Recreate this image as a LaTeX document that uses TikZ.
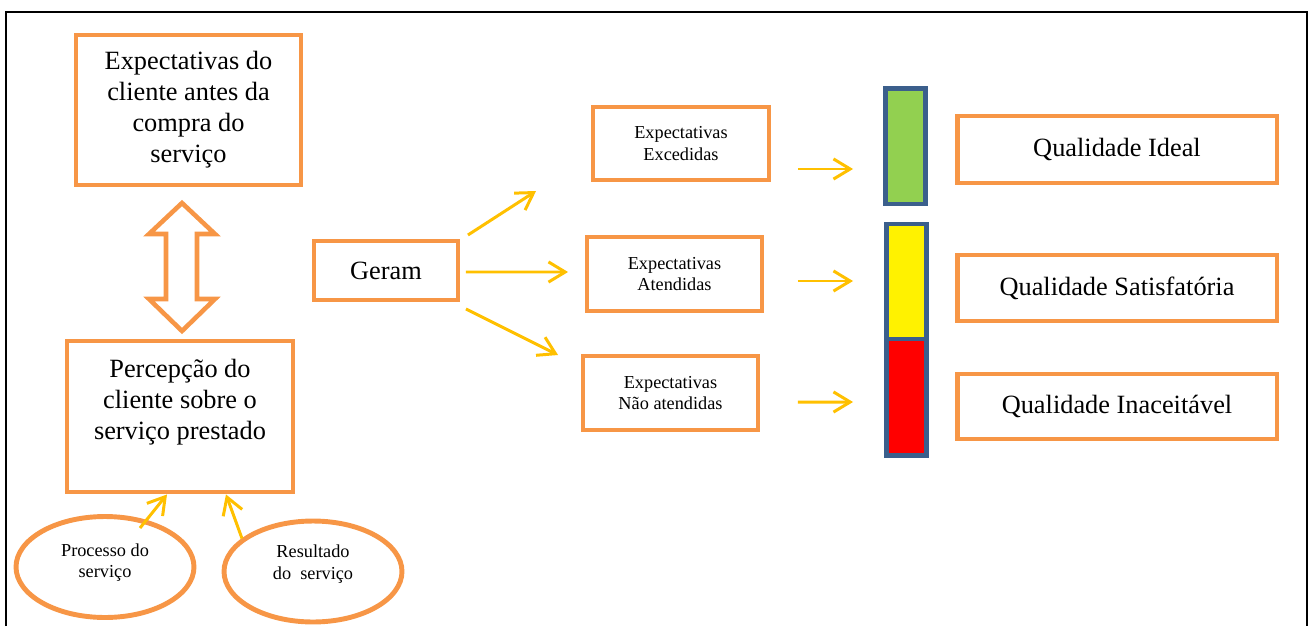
\documentclass[tikz,border=0pt]{standalone}
\usepackage{fontspec}
\setmainfont{Liberation Serif}
\usetikzlibrary{arrows.meta,shapes.geometric}
\definecolor{boxorange}{HTML}{F79646}
\definecolor{arrowyellow}{HTML}{FFC000}
\definecolor{barblue}{HTML}{3B5F8C}
\definecolor{bargreen}{HTML}{92D050}

\begin{document}
\begin{tikzpicture}[x=0.02cm, y=-0.02cm,
  box/.style={draw=boxorange, line width=2.8pt, fill=white, inner sep=0pt, align=center},
  bigtxt/.style={font=\fontsize{15}{17.6}\selectfont},
  smalltxt/.style={font=\fontsize{10.4}{12.4}\selectfont},
  ellbox/.style={ellipse, draw=boxorange, line width=2.8pt, inner sep=0pt,
    minimum width=3.56cm, minimum height=2.02cm},
  bar/.style={draw=barblue, line width=2.8pt, inner sep=0pt, minimum width=0.8cm},
  garrow/.style={draw=arrowyellow, line width=1.7pt, -{Straight Barb[length=9.5pt,width=11.5pt]}}]
\useasboundingbox (0,0) rectangle (1309,626);
\draw[line width=1.1pt] (6,626) -- (6,12) -- (1307,12) -- (1307,626);

% left column
\node[box, bigtxt, minimum width=4.5cm, minimum height=3cm] (expcli) at (188.5,110)
  {Expectativas do\\cliente antes da\\compra do\\serviço};
\node[box, minimum width=4.52cm, minimum height=3.02cm] (perc) at (180,416.5) {};
\node[bigtxt, align=center] (perctxt) at (180,402) {Percepção do\\cliente sobre o\\serviço prestado};
\draw[draw=boxorange, fill=white, line width=2.6pt, line join=miter]
  (182,203) -- (149,234) -- (166,234) -- (166,299) -- (149,299) -- (182,331)
  -- (215,299) -- (197,299) -- (197,234) -- (215,234) -- cycle;
\node[ellbox, label={[smalltxt, align=center, yshift=0.09cm]center:Processo do\\serviço}] (proc) at (105,567) {};
\node[ellbox, label={[smalltxt, align=center, yshift=0.15cm]center:Resultado\\do\ \ serviço}] (result) at (313,571.5) {};
\draw[garrow] ([shift={(35,-39)}]proc.center) -- ([xshift=-0.26cm]perc.south);
\draw[garrow] ([shift={(-71,-33)}]result.center) -- ([xshift=0.92cm]perc.south);

% middle
\node[box, bigtxt, minimum width=2.88cm, minimum height=1.18cm] (geram) at (386,270.5) {Geram};
\node[box, smalltxt, minimum width=3.52cm, minimum height=1.46cm] (exced) at (681,143.5) {Expectativas\\Excedidas};
\node[box, smalltxt, minimum width=3.5cm, minimum height=1.48cm] (atend) at (674.5,274) {Expectativas\\Atendidas};
\node[box, smalltxt, minimum width=3.5cm, minimum height=1.48cm] (naoat) at (670.5,393) {Expectativas\\Não atendidas};
\draw[garrow] ([shift={(7.5,-35.5)}]geram.east) -- ([shift={(-54.5,47.5)}]exced.west);
\draw[garrow] ([shift={(5.5,1.5)}]geram.east) -- ([shift={(-16.5,-2)}]atend.west);
\draw[garrow] ([shift={(5.5,38.5)}]geram.east) -- ([shift={(-22.5,-38)}]naoat.west);

% bars
\node[bar, fill=bargreen, minimum height=2.31cm] (green) at (905.5,146.25) {};
\node[bar, fill=yellow, minimum height=2.3cm] (yel) at (906.5,281.5) {};
\node[bar, fill=red, minimum height=2.33cm] (redbar) at (906.5,397.25) {};
\draw[garrow] ([shift={(26.5,25.5)}]exced.east) -- ([shift={(-30,22.75)}]green.west);
\draw[garrow] ([shift={(33.5,7)}]atend.east) -- ([shift={(-31,-0.5)}]yel.west);
\draw[garrow] ([shift={(37.5,9)}]naoat.east) -- ([shift={(-31,4.75)}]redbar.west);

% right column
\node[box, bigtxt, minimum width=6.4cm, minimum height=1.34cm] (ideal) at (1117,149.5) {Qualidade Ideal};
\node[box, bigtxt, minimum width=6.4cm, minimum height=1.32cm] (satisf) at (1117,288) {Qualidade Satisfatória};
\node[box, bigtxt, minimum width=6.4cm, minimum height=1.3cm] (inac) at (1117,406.5) {Qualidade Inaceitável};
\end{tikzpicture}
\end{document}
